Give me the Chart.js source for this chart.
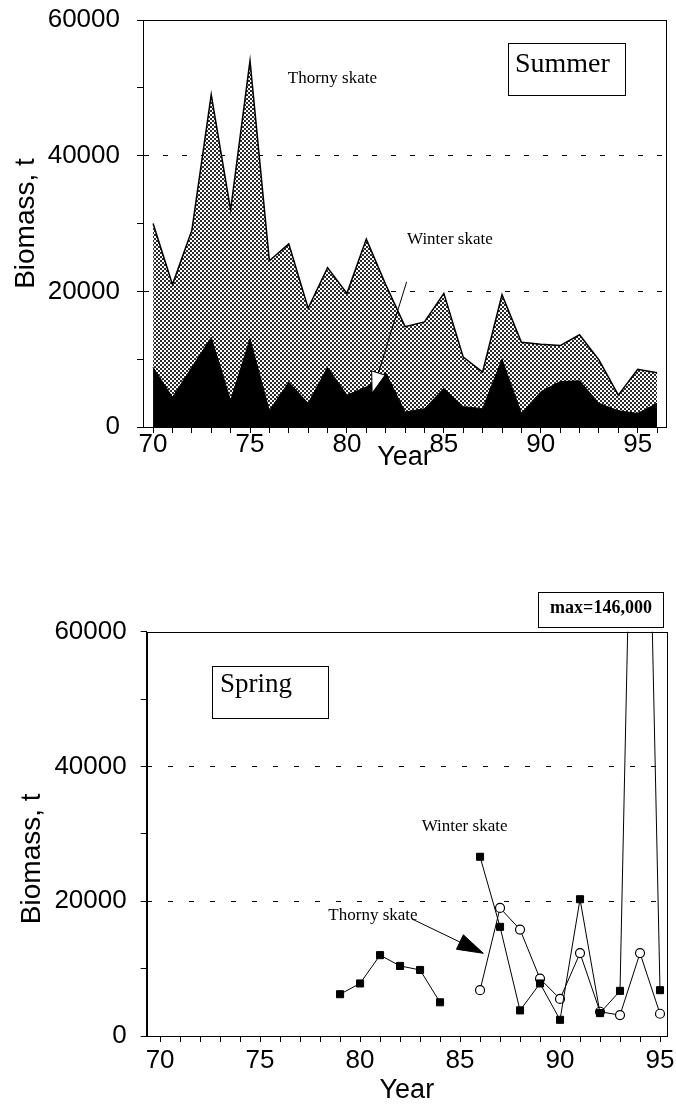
<!DOCTYPE html>
<html>
<head>
<meta charset="utf-8">
<title>Skate biomass, summer and spring surveys</title>
<script src="https://cdn.jsdelivr.net/npm/chart.js@4.4.1/dist/chart.umd.min.js"></script>
<style>
    html, body { margin: 0; padding: 0; background: #fff; }
    body { position: relative; width: 676px; height: 1106px; overflow: hidden; }
    canvas { position: absolute; left: 0; }
    #summer { top: 0; }
    #spring { top: 560px; }
</style>
</head>
<body>
<canvas id="summer" width="676" height="500"></canvas>
<canvas id="spring" width="676" height="546"></canvas>
<script>
// Summer survey, stacked: winter skate at the bottom, thorny skate on top
const summerYears = [70, 71, 72, 73, 74, 75, 76, 77, 78, 79, 80, 81, 82, 83, 84, 85, 86, 87, 88, 89, 90, 91, 92, 93, 94, 95, 96];
const summerWinter = [8800, 4400, 8800, 13200, 3900, 13000, 2400, 6600, 3500, 8800, 4700, 5900, 8000, 2200, 2700, 5700, 3000, 2700, 10000, 2000, 5200, 6700, 6800, 3500, 2400, 2000, 3500];
const summerThorny = [21200, 16600, 20200, 35800, 28100, 41000, 22100, 20400, 14000, 14700, 15000, 21800, 13000, 12600, 12800, 14000, 7300, 5400, 9500, 10500, 7000, 5300, 6800, 6400, 2300, 6500, 4500];

// Spring survey
const springYears = [79, 80, 81, 82, 83, 84, 85, 86, 87, 88, 89, 90, 91, 92, 93, 94, 95];
const springWinter = [6200, 7800, 12000, 10400, 9800, 5000, null, 26600, 16200, 3800, 7800, 2400, 20300, 3400, 6700, 146000, 6800];
const springThorny = [null, null, null, null, null, null, null, 6800, 19000, 15800, 8500, 5500, 12300, 3600, 3100, 12300, 3300];

// Axis labelling
const yearLabels = [70, 75, 80, 85, 90, 95];
const biomassLabels = [0, 20000, 40000, 60000];
const gridLevels = [20000, 40000];

Chart.defaults.font.family = "'Liberation Sans', Arial, Helvetica, sans-serif";
Chart.defaults.color = '#000';

const SANS = "'Liberation Sans', Arial, Helvetica, sans-serif";
const SERIF = "'Liberation Serif', 'Times New Roman', serif";

function pairs(xs, ys) {
    return xs.map((x, i) => ({ x, y: ys[i] }));
}

function stipple(canvas) {
    const tile = document.createElement('canvas');
    tile.width = 4;
    tile.height = 4;
    const g = tile.getContext('2d');
    g.fillStyle = '#fff';
    g.fillRect(0, 0, 4, 4);
    g.fillStyle = '#2a2a2a';
    g.fillRect(0, 0, 2, 2);
    g.fillRect(2, 2, 2, 2);
    return canvas.getContext('2d').createPattern(tile, 'repeat');
}

function drawArrow(ctx, x0, y0, x1, y1, len, half, fill) {
    const d = Math.hypot(x1 - x0, y1 - y0);
    const ux = (x1 - x0) / d;
    const uy = (y1 - y0) / d;
    const bx = x1 - ux * len;
    const by = y1 - uy * len;
    ctx.beginPath();
    ctx.moveTo(x0, y0);
    ctx.lineTo(bx, by);
    ctx.stroke();
    ctx.beginPath();
    ctx.moveTo(x1, y1);
    ctx.lineTo(bx - uy * half, by + ux * half);
    ctx.lineTo(bx + uy * half, by - ux * half);
    ctx.closePath();
    ctx.fillStyle = fill;
    ctx.fill();
    ctx.stroke();
}

// frame round the plot plus the labels, boxes and arrows, placed in data units
const notesPlugin = {
    id: 'notes',
    afterDraw(chart, args, opts) {
        const { ctx, chartArea: area } = chart;
        const px = (v) => chart.scales.x.getPixelForValue(v);
        const py = (v) => chart.scales.y.getPixelForValue(v);

        ctx.save();
        ctx.strokeStyle = '#000';
        ctx.lineWidth = 1;
        ctx.strokeRect(Math.round(area.left) + 0.5, Math.round(area.top) + 0.5,
            Math.round(area.right - area.left), Math.round(area.bottom - area.top));

        for (const item of opts.items || []) {
            ctx.fillStyle = '#000';
            if (item.type === 'box') {
                const x0 = Math.round(px(item.x1)) + 0.5;
                const x1 = Math.round(px(item.x2)) + 0.5;
                const y0 = Math.round(py(item.y1)) + 0.5;
                const y1 = Math.round(py(item.y2)) + 0.5;
                ctx.fillStyle = '#fff';
                ctx.fillRect(x0, y0, x1 - x0, y1 - y0);
                ctx.strokeRect(x0, y0, x1 - x0, y1 - y0);
                ctx.fillStyle = '#000';
                ctx.font = item.font;
                ctx.textBaseline = 'alphabetic';
                if (item.center) {
                    ctx.textAlign = 'center';
                    ctx.fillText(item.text, (x0 + x1) / 2, py(item.ty));
                } else {
                    ctx.textAlign = 'left';
                    ctx.fillText(item.text, px(item.tx), py(item.ty));
                }
            } else if (item.type === 'text') {
                ctx.font = item.font;
                ctx.textAlign = 'left';
                ctx.textBaseline = 'alphabetic';
                ctx.fillText(item.text, px(item.x), py(item.y));
            } else if (item.type === 'axisTitle') {
                // rotated y title, centred on a biomass level rather than on the axis
                ctx.save();
                ctx.translate(item.left, py(item.y));
                ctx.rotate(-Math.PI / 2);
                ctx.font = item.font;
                ctx.textAlign = 'center';
                ctx.textBaseline = 'middle';
                ctx.fillText(item.text, 0, 0);
                ctx.restore();
            } else if (item.type === 'arrow') {
                drawArrow(ctx, px(item.from[0]), py(item.from[1]), px(item.to[0]), py(item.to[1]),
                    item.len, item.half, item.fill);
            }
        }
        ctx.restore();
    },
};

function yearAxis({ min, max, ticks, labelPad, height, titlePad }) {
    return {
        type: 'linear',
        min,
        max,
        afterBuildTicks(scale) {
            scale.ticks = ticks.map((value) => ({ value }));
        },
        afterFit(scale) {
            // keep the plot edges where they are; labels may overhang
            scale.height = height;
            scale.paddingLeft = 0;
            scale.paddingRight = 0;
        },
        grid: { drawOnChartArea: false, color: '#000', tickColor: '#000', tickLength: 6 },
        border: { color: '#000', width: 1 },
        ticks: {
            autoSkip: false,
            maxRotation: 0,
            padding: labelPad,
            font: { size: 26, lineHeight: 1 },
            callback: (value) => (yearLabels.includes(value) ? String(value) : ''),
        },
        title: {
            display: true,
            text: 'Year',
            font: { size: 27, lineHeight: 1 },
            padding: { top: 0, bottom: titlePad },
        },
    };
}

function biomassAxis({ width, labelPad, titlePad, dash, stacked, showTitle }) {
    return {
        stacked,
        min: 0,
        max: 60000,
        afterFit(scale) {
            scale.width = width;
            scale.paddingTop = 0;
            scale.paddingBottom = 0;
        },
        grid: {
            color: (c) => (c.tick && gridLevels.includes(c.tick.value) ? '#000' : 'rgba(0,0,0,0)'),
            tickColor: '#000',
            tickLength: 6,
            lineWidth: 1,
        },
        border: { color: '#000', width: 1, dash },
        ticks: {
            stepSize: 10000,
            padding: labelPad,
            font: { size: 26, lineHeight: 1 },
            callback: (value) => (biomassLabels.includes(value) ? String(value) : ''),
        },
        title: {
            display: showTitle,
            text: 'Biomass, t',
            font: { size: 28, lineHeight: 1 },
            padding: { top: titlePad, bottom: 0 },
        },
    };
}

const summerCanvas = document.getElementById('summer');

new Chart(summerCanvas, {
    type: 'line',
    data: {
        datasets: [
            {
                label: 'Winter skate',
                data: pairs(summerYears, summerWinter),
                fill: 'origin',
                backgroundColor: '#000',
                borderColor: '#000',
                borderWidth: 1,
                pointRadius: 0,
            },
            {
                label: 'Thorny skate',
                data: pairs(summerYears, summerThorny),
                fill: '-1',
                backgroundColor: stipple(summerCanvas),
                borderColor: '#000',
                borderWidth: 1.5,
                pointRadius: 0,
            },
        ],
    },
    options: {
        responsive: false,
        animation: false,
        events: [],
        layout: { padding: { top: 20, right: 10, bottom: 0, left: 0 } },
        scales: {
            x: yearAxis({ min: 69.48, max: 96.46, ticks: summerYears, labelPad: -1, height: 73, titlePad: 29 }),
            y: biomassAxis({ width: 143, labelPad: 17, titlePad: 12, dash: [5, 14], stacked: true, showTitle: true }),
        },
        plugins: {
            legend: { display: false },
            tooltip: { enabled: false },
            notes: {
                items: [
                    { type: 'text', text: 'Thorny skate', x: 76.95, y: 50700, font: `17px ${SERIF}` },
                    { type: 'text', text: 'Winter skate', x: 83.1, y: 27000, font: `17px ${SERIF}` },
                    { type: 'box', text: 'Summer', x1: 88.3, x2: 94.35, y1: 56650, y2: 48940, tx: 88.67, ty: 52330, font: `28px ${SERIF}` },
                    { type: 'arrow', from: [83.08, 21400], to: [81.3, 5000], len: 21, half: 7, fill: '#fff' },
                ],
            },
        },
    },
    plugins: [notesPlugin],
});

new Chart(document.getElementById('spring'), {
    type: 'line',
    data: {
        datasets: [
            {
                label: 'Winter skate',
                data: pairs(springYears, springWinter),
                borderColor: '#000',
                borderWidth: 1,
                pointStyle: 'rect',
                pointRadius: 5,
                pointBackgroundColor: '#000',
                pointBorderColor: '#000',
                spanGaps: false,
            },
            {
                label: 'Thorny skate',
                data: pairs(springYears, springThorny),
                borderColor: '#000',
                borderWidth: 1,
                pointStyle: 'circle',
                pointRadius: 4.5,
                pointBackgroundColor: '#fff',
                pointBorderColor: '#000',
                pointBorderWidth: 1.2,
            },
        ],
    },
    options: {
        responsive: false,
        animation: false,
        events: [],
        layout: { padding: { top: 71.7, right: 9, bottom: 0, left: 0 } },
        scales: {
            x: yearAxis({ min: 69.33, max: 95.35, ticks: summerYears.filter((v) => v <= 95), labelPad: 6, height: 70, titlePad: 1.5 }),
            y: biomassAxis({ width: 146.7, labelPad: 14, titlePad: 18, dash: [5, 16], stacked: false, showTitle: false }),
        },
        plugins: {
            legend: { display: false },
            tooltip: { enabled: false },
            notes: {
                items: [
                    { type: 'axisTitle', text: 'Biomass, t', left: 32, y: 26300, font: `28px ${SANS}` },
                    { type: 'box', text: 'Spring', x1: 72.585, x2: 78.415, y1: 54908, y2: 47147, tx: 73.0, ty: 51050, font: `27px ${SERIF}` },
                    { type: 'box', text: 'max=146,000', x1: 88.9, x2: 95.15, y1: 65890, y2: 60740, ty: 62770, center: true, font: `bold 18px ${SERIF}` },
                    { type: 'text', text: 'Winter skate', x: 83.085, y: 30422, font: `17px ${SERIF}` },
                    { type: 'text', text: 'Thorny skate', x: 78.415, y: 17214, font: `17px ${SERIF}` },
                    { type: 'arrow', from: [82.6, 17363], to: [86.165, 12273], len: 26, half: 8, fill: '#000' },
                ],
            },
        },
    },
    plugins: [notesPlugin],
});
</script>
</body>
</html>
